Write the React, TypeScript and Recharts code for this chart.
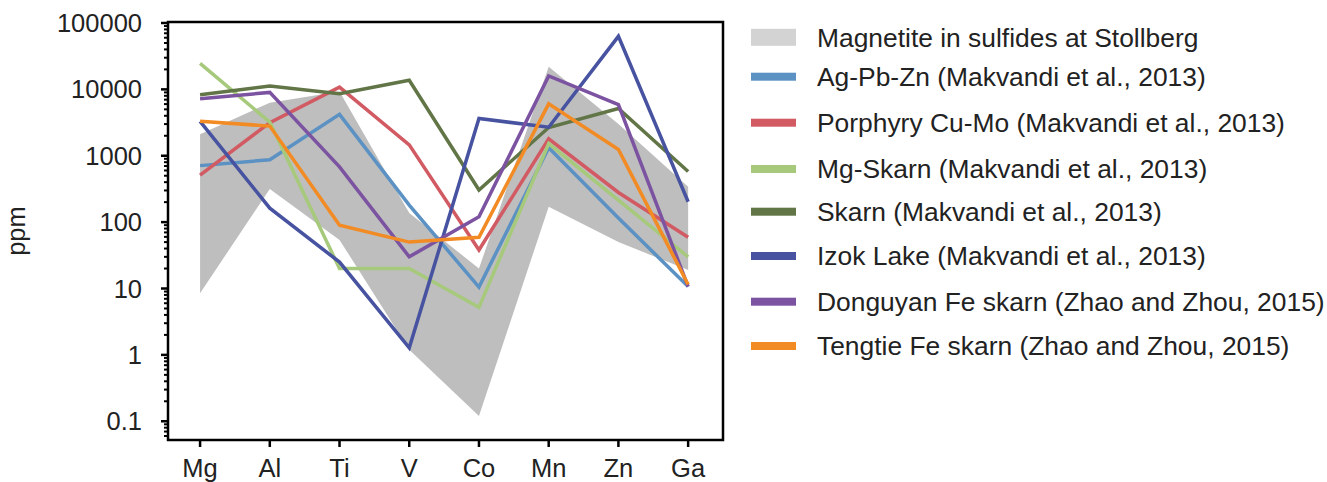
import React from 'react';
import { ComposedChart, Line, Area, XAxis, YAxis, ReferenceArea, Label } from 'recharts';

const categories = ['Mg', 'Al', 'Ti', 'V', 'Co', 'Mn', 'Zn', 'Ga'];

const bandLow = [8.5, 316, 54, 1.2, 0.12, 170, 50, 19];
const bandHigh = [2100, 6300, 9300, 137, 20, 22000, 3000, 340];

const agPbZn = [710, 870, 4200, 180, 10.5, 1320, 115, 10.7];
const porphyry = [510, 3150, 10800, 1460, 38, 1800, 280, 59];
const mgSkarn = [24700, 3200, 20, 20, 5.2, 1520, 215, 30];
const skarn = [8300, 11200, 8600, 13700, 305, 2660, 5140, 580];
const izok = [3300, 162, 25, 1.28, 3640, 2690, 63000, 203];
const donguyan = [7200, 9000, 680, 30, 120, 15900, 5900, 10.7];
const tengtie = [3300, 2800, 90, 50, 59, 6050, 1240, 11.5];

const bandName = 'Magnetite in sulfides at Stollberg';
const series = [
  { key: 'agPbZn', name: 'Ag-Pb-Zn (Makvandi et al., 2013)', color: '#5b91c3', values: agPbZn },
  { key: 'porphyry', name: 'Porphyry Cu-Mo (Makvandi et al., 2013)', color: '#d15a63', values: porphyry },
  { key: 'mgSkarn', name: 'Mg-Skarn (Makvandi et al., 2013)', color: '#a7c97c', values: mgSkarn },
  { key: 'skarn', name: 'Skarn (Makvandi et al., 2013)', color: '#617547', values: skarn },
  { key: 'izok', name: 'Izok Lake (Makvandi et al., 2013)', color: '#4753a0', values: izok },
  { key: 'donguyan', name: 'Donguyan Fe skarn (Zhao and Zhou, 2015)', color: '#7b53a1', values: donguyan },
  { key: 'tengtie', name: 'Tengtie Fe skarn (Zhao and Zhou, 2015)', color: '#f28b24', values: tengtie },
];

// legend row centres (page pixels)
const legendRows = [37.3, 76.7, 122.7, 169, 211.7, 256, 301.7, 346];

const majorTicks = [0.1, 1, 10, 100, 1000, 10000, 100000];
const minorMultipliers = [2, 3, 4, 5, 6, 7, 8, 9];
const minorTicks: number[] = [0.06, 0.07, 0.08, 0.09];
[0.1, 1, 10, 100, 1000, 10000].forEach((d) => minorMultipliers.forEach((m) => minorTicks.push(parseFloat((d * m).toPrecision(3)))));
const allYTicks = [...majorTicks, ...minorTicks];

const Y_DOMAIN: [number, number] = [0.0522, 103500];
const X_DOMAIN: [number, number] = [-0.46, 7.5];

const FONT = '"Liberation Sans", Arial, Helvetica, sans-serif';
const TEXT = '#222222';
const Y_TICK_SIZE = 7;
const Y_TICK_MARGIN = 19;

const data = categories.map((c, i) => {
  const row: any = { i, name: c, band: [bandLow[i], bandHigh[i]] };
  series.forEach((s) => (row[s.key] = s.values[i]));
  return row;
});

const YTick = (props: any) => {
  const { x, y, payload } = props;
  const v = payload.value;
  const major = majorTicks.includes(v);
  const ax = x + Y_TICK_SIZE + Y_TICK_MARGIN;
  return (
    <g>
      <line x1={ax - (major ? 7 : 4)} x2={ax} y1={y} y2={y} stroke="#000" strokeWidth={major ? 2.5 : 2} />
      {major && (
        <text x={x} y={y} dy="0.355em" textAnchor="end" fontSize={25.5} fill={TEXT} fontFamily={FONT}>
          {String(v)}
        </text>
      )}
    </g>
  );
};

const LegendBox = () => {
  const top = 10;
  const rowY = (k: number) => legendRows[k] - top;
  return (
    <svg width={585} height={370} style={{ position: 'absolute', left: 740, top, display: 'block' }}>
      <rect x={11} y={rowY(0) - 8.5} width={45} height={17} fill="#d3d3d3" />
      <text x={77} y={rowY(0)} dy="0.355em" fontSize={26.4} fill={TEXT} fontFamily={FONT}>{bandName}</text>
      {series.map((s, k) => (
        <g key={s.key}>
          <rect x={11} y={rowY(k + 1) - 4} width={45} height={8} fill={s.color} />
          <text x={77} y={rowY(k + 1)} dy="0.355em" fontSize={26.4} fill={TEXT} fontFamily={FONT}>{s.name}</text>
        </g>
      ))}
    </svg>
  );
};

export default function App() {
  return (
    <div style={{ position: 'absolute', left: 0, top: 0, width: 1327, height: 482, background: '#fff', overflow: 'hidden' }}>
      <ComposedChart width={1327} height={482} data={data} margin={{ top: 22, right: 604, bottom: 0, left: 68 }}>
        <XAxis
          dataKey="i"
          type="number"
          domain={X_DOMAIN}
          ticks={[0, 1, 2, 3, 4, 5, 6, 7]}
          interval={0}
          allowDataOverflow
          tickFormatter={(v: number) => categories[v]}
          axisLine={false}
          tickSize={7}
          tickMargin={12}
          height={42}
          tickLine={{ stroke: '#000', strokeWidth: 2.5 }}
          tick={{ fontSize: 25.5, fill: TEXT, fontFamily: FONT }}
        />
        <YAxis
          scale="log"
          type="number"
          domain={Y_DOMAIN}
          allowDataOverflow
          ticks={allYTicks}
          interval={0}
          width={100}
          axisLine={false}
          tickLine={false}
          tickSize={Y_TICK_SIZE}
          tickMargin={Y_TICK_MARGIN}
          tick={<YTick />}
        >
          <Label
            content={(p: any) => {
              const vb = p.viewBox || { x: 68, y: 22, width: 100, height: 418 };
              const cy = vb.y + vb.height / 2;
              const cx = 25;
              return (
                <text x={cx} y={cy} textAnchor="middle" fontSize={25.5} fill={TEXT} fontFamily={FONT} transform={`rotate(-90, ${cx}, ${cy})`}>
                  ppm
                </text>
              );
            }}
          />
        </YAxis>
        <Area dataKey="band" type="linear" stroke="none" fill="#bebebe" fillOpacity={1} isAnimationActive={false} legendType="none" />
        {series.map((s) => (
          <Line key={s.key} dataKey={s.key} name={s.name} type="linear" stroke={s.color} strokeWidth={3.5} dot={false} activeDot={false} isAnimationActive={false} />
        ))}
        <ReferenceArea x1={X_DOMAIN[0]} x2={X_DOMAIN[1]} y1={Y_DOMAIN[0]} y2={Y_DOMAIN[1]} fill="none" stroke="#000" strokeWidth={2.5} ifOverflow="visible" />
      </ComposedChart>
      <LegendBox />
    </div>
  );
}
